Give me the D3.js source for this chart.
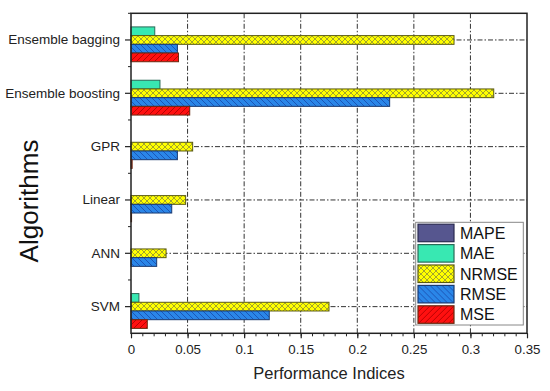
<!DOCTYPE html>
<html>
<head>
<meta charset="utf-8">
<script src="https://cdn.jsdelivr.net/npm/d3@7"></script>
<style>
  body { margin: 0; background: #fff; }
  svg { display: block; font-family: Arial, 'Liberation Sans', sans-serif; }
</style>
</head>
<body>
<svg width="550" height="391"></svg>
<script>
// chart data
let categories = ['Ensemble bagging', 'Ensemble boosting', 'GPR', 'Linear', 'ANN', 'SVM']
let seriesNames = ['MAPE', 'MAE', 'NRMSE', 'RMSE', 'MSE']
let mapeValues  = [0, 0, 0, 0, 0, 0]
let maeValues   = [0.021, 0.0256, 0, 0, 0, 0.007]
let nrmseValues = [0.2855, 0.3206, 0.0545, 0.0483, 0.031, 0.175]
let rmseValues  = [0.041, 0.2286, 0.041, 0.036, 0.0227, 0.1222]
let mseValues   = [0.042, 0.0519, 0.001, 0.0005, 0, 0.0144]
let xTicks = [0, 0.05, 0.1, 0.15, 0.2, 0.25, 0.3, 0.35]

let seriesValues = [mapeValues, maeValues, nrmseValues, rmseValues, mseValues]

let plotLeft = 131
let plotRight = 527
let plotTop = 13.3
let plotBottom = 333.3

let svg = d3.select('svg')
let defs = svg.append('defs')

// fills
let makePattern = (id, bg, lines, stroke, size) => {
    let p = defs.append('pattern')
        .attr('id', id)
        .attr('patternUnits', 'userSpaceOnUse')
        .attr('width', size)
        .attr('height', size)
    p.append('rect').attr('width', size).attr('height', size).attr('fill', bg)
    lines.forEach((l) => {
        p.append('path').attr('d', l).attr('stroke', stroke).attr('stroke-width', 0.9).attr('fill', 'none')
    })
}
makePattern('pNrmse', '#ffff00', ['M0,0L6,6', 'M0,6L6,0', 'M-1,1L1,-1', 'M5,7L7,5', 'M-1,5L1,7', 'M5,-1L7,1'], '#9a9a30', 6)
makePattern('pRmse', '#2a86e8', ['M0,0L6,6', 'M-3,3L3,9', 'M3,-3L9,3'], '#1b4fb0', 6)
makePattern('pMse', '#ff1010', ['M0,6L6,0', 'M-3,3L3,-3', 'M3,9L9,3'], '#b00000', 6)

let fills = {
    MAPE: '#56568f',
    MAE: '#38e8b2',
    NRMSE: 'url(#pNrmse)',
    RMSE: 'url(#pRmse)',
    MSE: 'url(#pMse)'
}
let strokes = {
    MAPE: '#2a2a50',
    MAE: '#2a6a58',
    NRMSE: '#5a5a10',
    RMSE: '#1a3a70',
    MSE: '#6a2a10'
}

// scales
let xScale = d3.scaleLinear().domain([0, 0.35]).range([plotLeft, plotRight])
let yScale = d3.scaleBand().domain(categories).range([plotTop, plotBottom])
let bw = yScale.bandwidth()
let subScale = d3.scaleBand().domain(seriesNames).range([4.9, bw - 4.9])

// grid
let grid = svg.append('g')
    .attr('stroke', '#333')
    .attr('stroke-width', 1)
    .attr('stroke-dasharray', '5,2,1.5,2')
grid.selectAll('line.v')
    .data(xTicks.slice(1, -1))
    .enter()
    .append('line')
    .attr('x1', (d) => xScale(d))
    .attr('x2', (d) => xScale(d))
    .attr('y1', plotTop)
    .attr('y2', plotBottom)
grid.selectAll('line.h')
    .data(categories)
    .enter()
    .append('line')
    .attr('x1', plotLeft)
    .attr('x2', plotRight)
    .attr('y1', (d) => yScale(d) + bw / 2)
    .attr('y2', (d) => yScale(d) + bw / 2)

// bars
let barData = []
categories.forEach((c, i) => {
    seriesNames.forEach((s, j) => {
        if (seriesValues[j][i] > 0) barData.push({ cat: c, series: s, value: seriesValues[j][i] })
    })
})
svg.append('g')
    .selectAll('rect')
    .data(barData)
    .enter()
    .append('rect')
    .attr('x', xScale(0))
    .attr('y', (d) => yScale(d.cat) + subScale(d.series))
    .attr('width', (d) => xScale(d.value) - xScale(0))
    .attr('height', subScale.bandwidth())
    .attr('fill', (d) => fills[d.series])
    .attr('stroke', (d) => strokes[d.series])
    .attr('stroke-width', 1)

// frame
svg.append('rect')
    .attr('x', plotLeft)
    .attr('y', plotTop)
    .attr('width', plotRight - plotLeft)
    .attr('height', plotBottom - plotTop)
    .attr('fill', 'none')
    .attr('stroke', '#222')
    .attr('stroke-width', 1.5)

// x axis
let xAxis = d3.axisBottom(xScale)
    .tickValues(xTicks)
    .tickSize(5)
    .tickPadding(6)
    .tickFormat((d) => String(+d.toFixed(2)))
let gx = svg.append('g')
    .attr('transform', 'translate(0,' + plotBottom + ')')
    .call(xAxis)
    .attr('font-family', null)
gx.select('.domain').remove()
gx.selectAll('line').attr('stroke', '#222').attr('stroke-width', 1.2)
gx.selectAll('text').attr('font-size', 13.3).attr('fill', '#222')

let gxMinor = svg.append('g')
    .attr('transform', 'translate(0,' + plotBottom + ')')
    .call(d3.axisBottom(xScale).ticks(35).tickSize(3).tickFormat(''))
gxMinor.select('.domain').remove()
gxMinor.selectAll('line').attr('stroke', '#222')

// y axis
let yAxis = d3.axisLeft(yScale).tickSize(6).tickPadding(5)
let gy = svg.append('g')
    .attr('transform', 'translate(' + plotLeft + ',0)')
    .call(yAxis)
    .attr('font-family', null)
gy.select('.domain').remove()
gy.selectAll('line').attr('stroke', '#222').attr('stroke-width', 1.2)
gy.selectAll('text').attr('font-size', 13.5).attr('fill', '#222')

svg.append('g')
    .selectAll('line')
    .data(categories.map((c) => yScale(c)))
    .enter()
    .append('line')
    .attr('x1', plotLeft - 3)
    .attr('x2', plotLeft)
    .attr('y1', (d) => d)
    .attr('y2', (d) => d)
    .attr('stroke', '#222')

// axis titles
svg.append('text')
    .text('Performance Indices')
    .attr('x', (plotLeft + plotRight) / 2)
    .attr('y', 379)
    .attr('text-anchor', 'middle')
    .attr('font-size', 16.5)
    .attr('fill', '#222')

svg.append('text')
    .text('Algorithms')
    .attr('transform', 'translate(37.5,201) rotate(-90)')
    .attr('text-anchor', 'middle')
    .attr('font-size', 26)
    .attr('fill', '#111')

// legend
let legend = svg.append('g')
legend.append('rect')
    .attr('x', 415.7)
    .attr('y', 222.3)
    .attr('width', 107.6)
    .attr('height', 102.7)
    .attr('fill', '#fff')
    .attr('stroke', '#888')
    .attr('stroke-width', 1)
let rows = legend.selectAll('g.row')
    .data(seriesNames)
    .enter()
    .append('g')
    .attr('transform', (d, i) => 'translate(418,' + (224.2 + i * 20.4) + ')')
rows.append('rect')
    .attr('width', 36)
    .attr('height', 17.5)
    .attr('fill', (d) => fills[d])
    .attr('stroke', (d) => strokes[d])
    .attr('stroke-width', 1.2)
rows.append('text')
    .text((d) => d)
    .attr('x', 42)
    .attr('y', 14.5)
    .attr('font-size', 16)
    .attr('fill', '#111')
</script>
</body>
</html>
